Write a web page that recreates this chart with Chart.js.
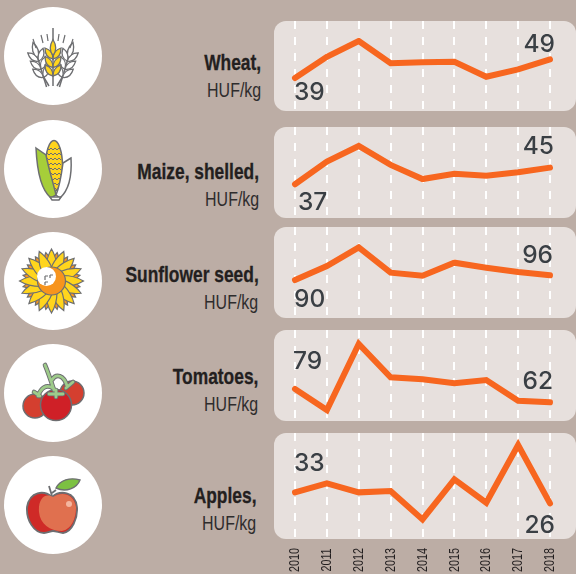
<!DOCTYPE html>
<html>
<head>
<meta charset="utf-8">
<script src="https://cdn.jsdelivr.net/npm/chart.js@4"></script>
<style>
    body { margin: 0; background: #bcada5; }
    #page { position: relative; width: 576px; height: 574px; overflow: hidden; background: #bcada5; }
    canvas { position: absolute; left: 274px; }
    #icons { position: absolute; left: 0; top: 0; }
    .label { position: absolute; text-align: right; font-family: "Liberation Sans", sans-serif; color: #231f20; white-space: nowrap; }
    .label b { position: absolute; right: 0; font-size: 22px; line-height: 24px; transform: scaleX(0.79); transform-origin: right center; -webkit-text-stroke: 0.3px #231f20; }
    .label span { position: absolute; right: 0; top: 27px; font-size: 21px; line-height: 24px; color: #2e2c2d; transform: scaleX(0.76); transform-origin: right center; }
</style>
</head>
<body>
<div id="page">
    <svg id="icons" width="274" height="574" xmlns="http://www.w3.org/2000/svg"></svg>
</div>
<script>
const years = ['2010', '2011', '2012', '2013', '2014', '2015', '2016', '2017', '2018'];
const wheat = [39, 50.4, 58.8, 46.9, 47.4, 47.7, 39.7, 43.6, 49];
const maize = [37, 47.9, 55.4, 46.3, 39.5, 42, 41.1, 42.8, 45];
const sunflower = [90, 107.9, 131.9, 99.4, 95.5, 112.2, 105.8, 100.3, 96];
const tomatoes = [79, 52.2, 136.4, 93.9, 91.4, 86.3, 90.5, 64.1, 62];
const apples = [33, 38.7, 33, 33.8, 15.8, 41.3, 26.4, 63.1, 26];
const names = ['Wheat,', 'Maize, shelled,', 'Sunflower seed,', 'Tomatoes,', 'Apples,'];
const unit = 'HUF/kg';

const page = document.getElementById('page');

// one small chart per product
function addChart(values, top, height, yMin, yMax, firstDy, lastDy, firstDx, lastDx, showYears) {
    const canvas = document.createElement('canvas');
    canvas.width = 302;
    canvas.height = showYears ? 574 - top : height;
    canvas.style.top = top + 'px';
    page.appendChild(canvas);

    // rounded panel behind the lines
    const panel = {
        id: 'panel',
        beforeDraw(chart) {
            const ctx = chart.ctx;
            ctx.save();
            ctx.fillStyle = '#e7e0dd';
            ctx.beginPath();
            ctx.roundRect(0, 0, 302, height, [12, 12, 12, 12]);
            ctx.fill();
            ctx.restore();
        }
    };

    // first and last value, written next to the line
    const endLabels = {
        id: 'endLabels',
        afterDatasetsDraw(chart) {
            const ctx = chart.ctx;
            const pts = chart.getDatasetMeta(0).data;
            ctx.save();
            ctx.font = '500 24.5px Inter, sans-serif';
            ctx.fillStyle = '#3a3f44';
            ctx.textBaseline = 'middle';
            ctx.textAlign = 'left';
            ctx.fillText(values[0], pts[0].x + firstDx, pts[0].y + firstDy);
            ctx.textAlign = 'right';
            ctx.fillText(values[8], pts[8].x + lastDx, pts[8].y + lastDy);
            ctx.restore();
        }
    };

    // the year labels are narrower than any installed font, so squeeze them
    const yearLabels = {
        id: 'yearLabels',
        afterDraw(chart) {
            if (!showYears) return;
            const ctx = chart.ctx;
            const x = chart.scales.x;
            ctx.save();
            ctx.font = '15px "Liberation Sans", sans-serif';
            ctx.fillStyle = '#231f20';
            ctx.textAlign = 'center';
            ctx.textBaseline = 'middle';
            x.getTicks().forEach((tick, i) => {
                ctx.save();
                ctx.translate(x.getPixelForTick(i), 127);
                ctx.rotate(-Math.PI / 2);
                ctx.scale(0.72, 1);
                ctx.fillText(x.getLabelForValue(tick.value), 0, 0);
                ctx.restore();
            });
            ctx.restore();
        }
    };

    new Chart(canvas, {
        type: 'line',
        data: {
            labels: years,
            datasets: [{
                data: values,
                borderColor: '#f7661f',
                borderWidth: 6,
                borderCapStyle: 'round',
                borderJoinStyle: 'miter',
                pointRadius: 0,
                tension: 0,
                clip: false
            }]
        },
        options: {
            responsive: false,
            animation: false,
            layout: { padding: { left: 21, right: 26, top: 0, bottom: 0 } },
            plugins: { legend: { display: false }, tooltip: { enabled: false } },
            scales: {
                y: { display: false, min: yMin, max: yMax },
                x: {
                    afterFit(scale) { scale.height = showYears ? 35 : 0; },
                    border: { display: false, dash: [8, 8] },
                    grid: { color: '#ffffff', lineWidth: 2, drawTicks: false },
                    ticks: { display: false }
                }
            }
        },
        plugins: [panel, endLabels, yearLabels]
    });
}

addChart(wheat, 21, 90, 21.4, 69.5, 15, -15, -1, 5, false);
addChart(maize, 127, 91, 20.8, 64.5, 18, -21, 3, 4, false);
addChart(sunflower, 227, 91, 41.3, 158, 20, -20, -1, 3, false);
addChart(tomatoes, 330, 91, 38.2, 154.3, -27, -21, -2, 3, false);
addChart(apples, 433, 106, 3.3, 70.8, -29, 22, -1, 5, true);

// product names on the left
function addLabel(name, right, top) {
    const div = document.createElement('div');
    div.className = 'label';
    div.style.right = (576 - right) + 'px';
    div.style.top = top + 'px';
    div.innerHTML = '<b>' + name + '</b><span>' + unit + '</span>';
    page.appendChild(div);
}
addLabel(names[0], 261, 51);
addLabel(names[1], 259, 160);
addLabel(names[2], 258.5, 263);
addLabel(names[3], 258, 365);
addLabel(names[4], 256, 484);

// icons
const line = '#6d6e71';
let svg = '';
[56, 169, 281, 393, 505].forEach(cy => { svg += `<circle cx="53" cy="${cy}" r="49" fill="#fff"/>`; });

function grain(x1, y1, side, fill) {
    const s = side;
    return `<path d="M${x1} ${y1}C${x1 + s * 7} ${y1 - 1} ${x1 + s * 8} ${y1 - 6} ${x1 + s * 8} ${y1 - 11}C${x1 + s * 2} ${y1 - 9} ${x1} ${y1 - 6} ${x1} ${y1}Z" fill="${fill}" stroke="${line}" stroke-width="1.3"/>`;
}
function ear(transform, fill, stemTop, rows) {
    let g = `<g transform="${transform}">`;
    g += `<path d="M53 ${stemTop}V86" stroke="${line}" stroke-width="1.5" fill="none"/>`;
    for (let i = 0; i < rows; i++) {
        const y = 76 - i * 8.5;
        g += grain(53, y, -1, fill) + grain(53, y, 1, fill);
    }
    const t = 76 - rows * 8.5;
    g += `<path d="M53 ${t + 5}C49 ${t} 50 ${t - 6} 53 ${t - 11}C56 ${t - 6} 57 ${t} 53 ${t + 5}Z" fill="${fill}" stroke="${line}" stroke-width="1.3"/>`;
    return g + '</g>';
}
svg += ear('rotate(-17 53 108)', '#fff', 45, 3) + ear('rotate(17 53 108)', '#fff', 45, 3);
svg += `<path d="M47 34l1 7M59 34l-1 7M33 39l3 9M73 39l-3 9M41 35l2 8M65 35l-2 8" stroke="${line}" stroke-width="1.2" fill="none"/>`;
svg += ear('', '#ffd51d', 28, 3);
svg += `<path d="M43 76L49 86M63 76L57 86" stroke="${line}" stroke-width="1.5" fill="none"/>`;

// maize
svg += `<ellipse cx="54" cy="166" rx="8.5" ry="25.5" fill="#ffd51d" stroke="${line}" stroke-width="1.5"/>`;
for (let y = 148; y < 190; y += 5) {
    svg += `<path d="M47 ${y}l2 2 2-2 2 2 2-2 2 2 2-2 2 2" stroke="${line}" stroke-width="1" fill="none"/>`;
}
svg += `<path d="M36 148L46 155C49 170 53 182 56 195L51 198C41 190 37 170 36 148Z" fill="#a6ce39" stroke="${line}" stroke-width="1.5"/>`;
svg += `<path d="M71 158L63 163C61 178 59 188 56 195L60 198C69 190 72 175 71 158Z" fill="#fff" stroke="${line}" stroke-width="1.5"/>`;
svg += `<path d="M50 197H61L59 200H52Z" fill="#fff" stroke="${line}" stroke-width="1.5"/>`;

// sunflower
function petals(r, color, offset) {
    let g = '';
    for (let i = 0; i < 16; i++) {
        const a = i * 22.5 + offset;
        g += `<path transform="rotate(${a} 51.5 281)" d="M46 270Q46 ${281 - r + 9} 51.5 ${281 - r}Q57 ${281 - r + 9} 57 270Z" fill="${color}" stroke="${line}" stroke-width="1.2"/>`;
    }
    return g;
}
svg += petals(29, '#f7941d', 11.25) + petals(32, '#ffd51d', 0);
svg += `<circle cx="51.5" cy="281" r="14" fill="#f7941d" stroke="${line}" stroke-width="1.2"/>`;
svg += `<circle cx="46.5" cy="276.5" r="9.5" fill="#fff"/>`;
svg += `<path d="M45 276h3M45 276v4M50 275h3M50 275v3M45 282h3M45 282v3" stroke="${line}" stroke-width="1.2" fill="none"/>`;

// tomatoes
svg += `<circle cx="72" cy="393" r="12" fill="#d43f2f" stroke="${line}" stroke-width="1.5"/>`;
svg += `<circle cx="35" cy="406" r="12" fill="#d43f2f" stroke="${line}" stroke-width="1.5"/>`;
svg += `<circle cx="56" cy="405" r="15.5" fill="#cf2027" stroke="${line}" stroke-width="1.5"/>`;
const stems = 'M45 365C48 372 50 378 54 390M52 380C56 373 64 375 67 386M53 388C46 384 41 388 38 396M56 390L56 397M34 392L40 396M66 388L73 382M49 394L63 394';
svg += `<path d="${stems}" stroke="${line}" stroke-width="4.6" fill="none" stroke-linecap="round"/>`;
svg += `<path d="${stems}" stroke="#9ecb8a" stroke-width="2.8" fill="none" stroke-linecap="round"/>`;

// apple
svg += `<path d="M52 497C44 490 30 491 27 507C26 520 34 533 44 533C48 533 50 531 53 531C56 531 60 533 63 533C72 532 78 518 77 507C75 491 60 490 52 497Z" fill="#cf2a27" stroke="${line}" stroke-width="1.8"/>`;
svg += `<path d="M53 497C44 492 38 500 39 512C40 524 50 531 62 531C72 529 76 518 76 507C74 494 62 491 53 497Z" fill="#e0704f"/>`;
svg += `<circle cx="69" cy="504" r="3" fill="#f4b6a0"/>`;
svg += `<path d="M52 496L49 486M52 493L56 490" stroke="${line}" stroke-width="1.8" fill="none"/>`;
svg += `<path d="M56 488C60 480 70 477 80 480C77 488 66 493 56 488Z" fill="#7cc142" stroke="${line}" stroke-width="1.4"/>`;
document.getElementById('icons').innerHTML = svg;
</script>
</body>
</html>
